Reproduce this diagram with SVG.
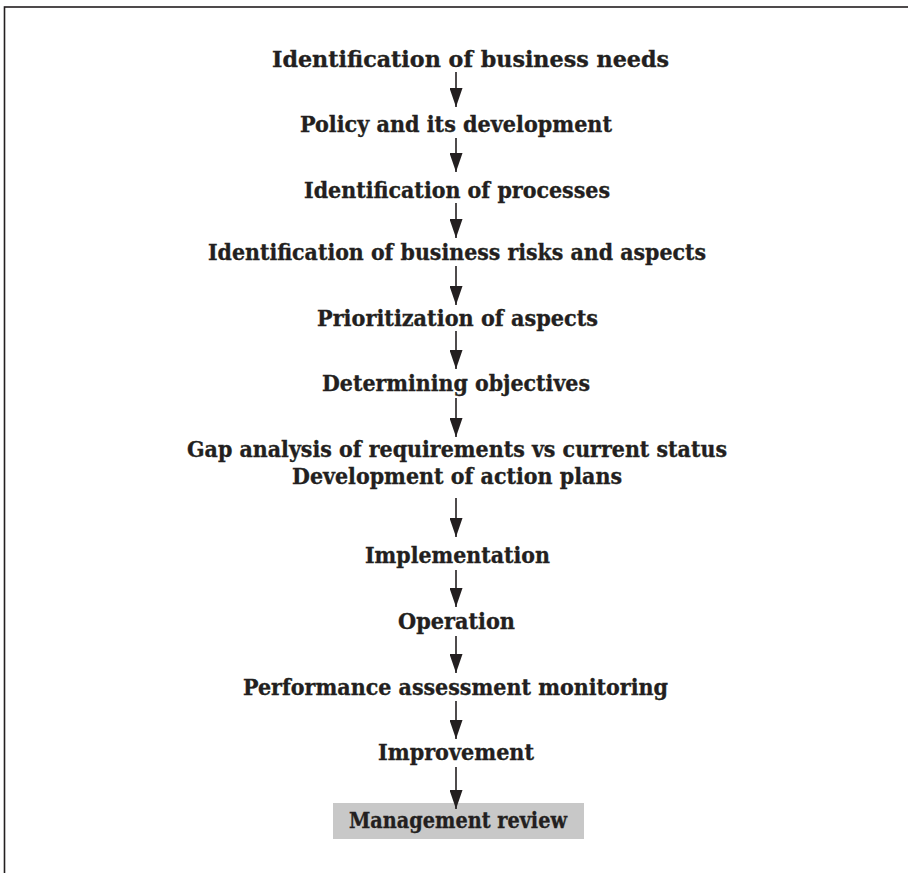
<svg xmlns="http://www.w3.org/2000/svg" width="908" height="873" viewBox="0 0 908 873">
<defs>
<style>
.t{font-family:"DejaVu Serif","Liberation Serif",serif;font-weight:bold;font-size:21.5px;fill:#231f20;stroke:#231f20;stroke-width:0.35;text-anchor:middle}
.c line{stroke:#231f20;stroke-width:1.6}
</style>
<marker id="ah" markerWidth="19" markerHeight="13" refX="19" refY="6.5" orient="auto" markerUnits="userSpaceOnUse" viewBox="0 0 19 13">
<path d="M0,0 L19,6.5 L0,13 Z" fill="#231f20"/>
</marker>
</defs>
<rect x="0" y="0" width="908" height="873" fill="#fff"/>
<rect x="4.5" y="7" width="920" height="900" fill="none" stroke="#231f20" stroke-width="1.6"/>
<g id="n1"><text class="t" x="470.5" y="67" textLength="397" lengthAdjust="spacingAndGlyphs">Identification of business needs</text></g>
<g id="n2"><text class="t" x="456" y="132" textLength="312" lengthAdjust="spacingAndGlyphs">Policy and its development</text></g>
<g id="n3"><text class="t" x="457" y="198" textLength="306" lengthAdjust="spacingAndGlyphs">Identification of processes</text></g>
<g id="n4"><text class="t" x="457" y="260" textLength="498" lengthAdjust="spacingAndGlyphs">Identification of business risks and aspects</text></g>
<g id="n5"><text class="t" x="457.5" y="326" textLength="281" lengthAdjust="spacingAndGlyphs">Prioritization of aspects</text></g>
<g id="n6"><text class="t" x="456" y="391" textLength="268" lengthAdjust="spacingAndGlyphs">Determining objectives</text></g>
<g id="n7"><text class="t" x="457" y="457" textLength="540" lengthAdjust="spacingAndGlyphs">Gap analysis of requirements vs current status</text><text class="t" x="457" y="484" textLength="330" lengthAdjust="spacingAndGlyphs">Development of action plans</text></g>
<g id="n8"><text class="t" x="457.5" y="563" textLength="185" lengthAdjust="spacingAndGlyphs">Implementation</text></g>
<g id="n9"><text class="t" x="456.5" y="629" textLength="117" lengthAdjust="spacingAndGlyphs">Operation</text></g>
<g id="n10"><text class="t" x="455.5" y="695" textLength="425" lengthAdjust="spacingAndGlyphs">Performance assessment monitoring</text></g>
<g id="n11"><text class="t" x="456" y="760" textLength="156" lengthAdjust="spacingAndGlyphs">Improvement</text></g>
<g id="n12"><rect x="333" y="803" width="251" height="36" fill="#c8c8c8"/><text class="t" x="458" y="828" textLength="218" lengthAdjust="spacingAndGlyphs">Management review</text></g>
<g class="c">
<line x1="456" y1="72" x2="456" y2="107" marker-end="url(#ah)"/>
<line x1="456" y1="138" x2="456" y2="172" marker-end="url(#ah)"/>
<line x1="456" y1="203" x2="456" y2="238" marker-end="url(#ah)"/>
<line x1="456" y1="266" x2="456" y2="305" marker-end="url(#ah)"/>
<line x1="456" y1="331" x2="456" y2="369" marker-end="url(#ah)"/>
<line x1="456" y1="398" x2="456" y2="437" marker-end="url(#ah)"/>
<line x1="456" y1="498" x2="456" y2="537" marker-end="url(#ah)"/>
<line x1="456" y1="570" x2="456" y2="607" marker-end="url(#ah)"/>
<line x1="456" y1="636" x2="456" y2="673" marker-end="url(#ah)"/>
<line x1="456" y1="701" x2="456" y2="739" marker-end="url(#ah)"/>
<line x1="456" y1="767" x2="456" y2="809" marker-end="url(#ah)"/>
</g>
</svg>
